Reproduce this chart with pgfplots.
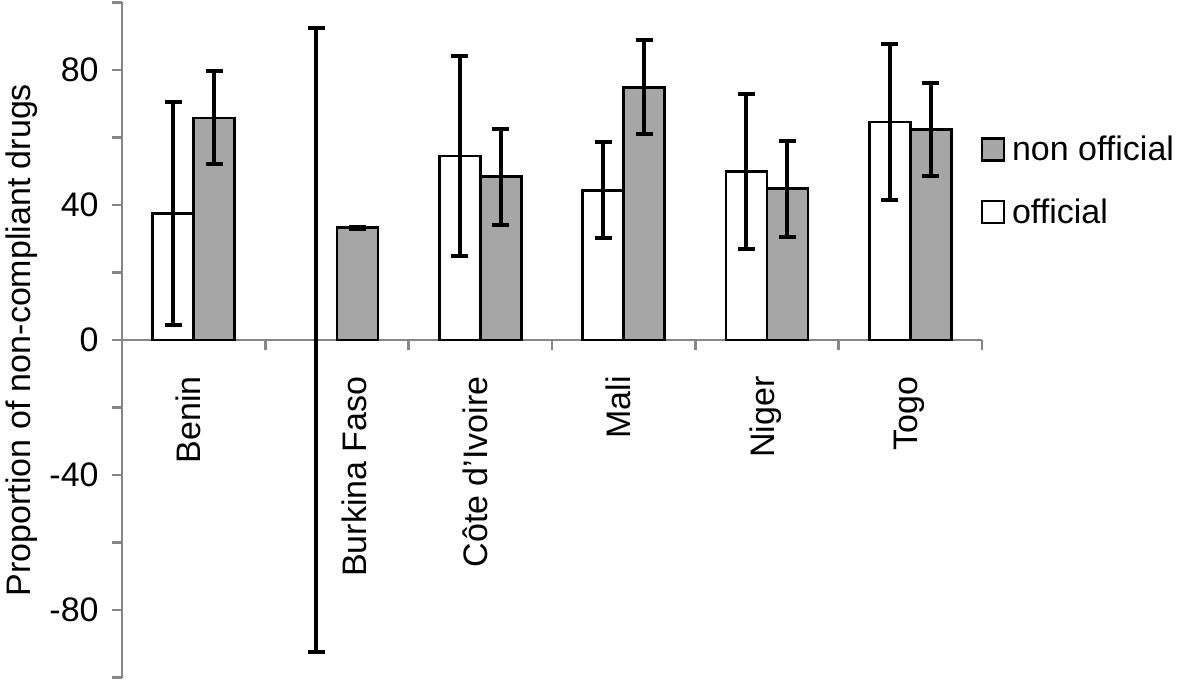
\documentclass[border=0pt]{standalone}
\usepackage{fontspec}
\setmainfont{Liberation Sans}
\usepackage{pgfplots}
\pgfplotsset{compat=1.18}
\definecolor{axgray}{RGB}{134,134,134}
\definecolor{barfill}{RGB}{166,166,166}
\begin{document}
\begin{tikzpicture}
\useasboundingbox (-61bp,-3.75bp) rectangle (529.5bp,338.75bp);
\begin{axis}[
  at={(0,0)}, anchor=south west,
  scale only axis, width=430bp, height=337.5bp,
  xmin=-0.5, xmax=5.5, ymin=-100, ymax=100,
  axis x line=middle, axis y line=left,
  axis line style={-, draw=axgray, line width=1.4bp},
  ybar, bar width=20.5bp,
  ytick={-80,-40,0,40,80}, minor ytick={-100,-60,-20,20,60,100},
  xtick={0,1.155,2,3,4,5},
  xticklabels={Benin, Burkina Faso, Côte d’Ivoire, Mali, Niger, Togo},
  minor xtick={-0.5,0.5,...,5.5},
  tick align=outside,
  major tick length=5bp, minor tick length=5bp,
  every tick/.style={draw=axgray, line width=1.4bp},
  major x tick style={draw=none},
  /pgf/number format/assume math mode=true,
  tick label style={font=\fontsize{17bp}{20bp}\selectfont, black},
  xticklabel style={rotate=90, anchor=east, inner sep=0pt, text height=0.72em, text depth=0pt},
  xticklabel shift=13bp,
  yticklabel style={inner sep=0pt, anchor=east, xshift=-6.5bp},
  ylabel={Proportion of non-compliant drugs},
  ylabel style={font=\fontsize{17bp}{20bp}\selectfont, at={(axis description cs:-0.1165,0.5)}, anchor=center},
  legend style={draw=none, fill=none, at={(rel axis cs:0.998,0.809)}, anchor=north west,
    font=\fontsize{17bp}{20bp}\selectfont, row sep=13.5bp, inner sep=0pt,
    nodes={inner ysep=2bp, inner xsep=3.5bp}},
  legend cell align=left,
  reverse legend,
  legend image code/.code={\draw[#1, line width=1.2bp] (0bp,-5.5bp) rectangle (11bp,5.5bp);},
  clip=false,
]
\addplot[fill=white, draw=black, line width=1.4bp, bar shift=-10.25bp,
  error bars/.cd, y dir=both, y explicit,
  error bar style={line width=2bp, black},
  error mark options={rotate=90, mark size=4.25bp, line width=2bp, black}]
  coordinates {
  (0,37.4) +- (0,33.0)
  (2,54.5) +- (0,29.6)
  (3,44.4) +- (0,14.2)
  (4,49.9) +- (0,23.0)
  (5,64.6) +- (0,23.1)
  };
\addlegendentry{official}
\addplot[fill=barfill, draw=black, line width=1.4bp, bar shift=10.25bp,
  error bars/.cd, y dir=both, y explicit,
  error bar style={line width=2bp, black},
  error mark options={rotate=90, mark size=4.25bp, line width=2bp, black}]
  coordinates {
  (0,65.8) +- (0,13.8)
  (1,33.3) +- (0,0.3)
  (2,48.4) +- (0,14.2)
  (3,74.9) +- (0,14.0)
  (4,44.8) +- (0,14.3)
  (5,62.4) +- (0,13.8)
  };
\addlegendentry{non official}
% Burkina Faso, official: value 0 with its error bar only
\addplot[draw=none, fill=none, bar shift=-10.25bp, forget plot,
  error bars/.cd, y dir=both, y explicit,
  error bar style={line width=2bp, black},
  error mark options={rotate=90, mark size=4.25bp, line width=2bp, black}]
  coordinates {
  (1,0) +- (0,92.3)
  };
\end{axis}
\end{tikzpicture}
\end{document}
